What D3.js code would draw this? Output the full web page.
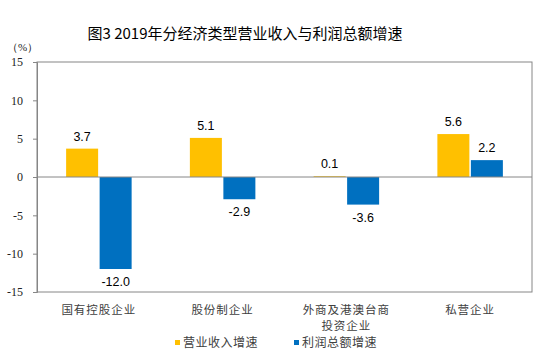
<!DOCTYPE html>
<html><head><meta charset="utf-8">
<script src="https://cdn.jsdelivr.net/npm/d3@7"></script>
<style>body{margin:0;background:#fff}svg{display:block}</style>
</head><body>
<svg id="c" width="550" height="360"></svg>
<script>
const categories = [["国有控股企业"], ["股份制企业"], ["外商及港澳台商", "投资企业"], ["私营企业"]];
const seriesNames = ["营业收入增速", "利润总额增速"];
const revenue = [3.7, 5.1, 0.1, 5.6];
const profit = [-12.0, -2.9, -3.6, 2.2];
const yTicks = [15, 10, 5, 0, -5, -10, -15];
const colors = ["#FFC000", "#0070C0"];

const svg = d3.select("#c");
const L = 37, R = 532, T = 62, B = 292;
const x = d3.scaleBand().domain(d3.range(categories.length)).range([L, R]);
const y = d3.scaleLinear().domain([-15, 15]).range([B, T]);
const barW = 32, gap = 1.5;
const cjk = "'Noto Sans CJK SC', sans-serif";
const serif = "'Liberation Serif', 'DejaVu Serif', serif";

// title
svg.append("text").attr("x", 245).attr("y", 39).attr("text-anchor", "middle")
  .attr("font-family", cjk).attr("font-size", 15).attr("fill", "#000")
  .text("图3 2019年分经济类型营业收入与利润总额增速");
svg.append("text").attr("x", 7).attr("y", 51).attr("font-family", serif)
  .attr("font-size", 11).attr("fill", "#222").text("（%）");

// frame
svg.append("rect").attr("x", L).attr("y", T).attr("width", R - L).attr("height", B - T)
  .attr("fill", "none").attr("stroke", "#868686").attr("stroke-width", 1);

// y axis
const yAxis = d3.axisLeft(y).tickValues(yTicks).tickSize(4).tickPadding(10)
  .tickFormat(d => String(d));
const ga = svg.append("g").attr("transform", `translate(${L},0)`).call(yAxis);
ga.select(".domain").attr("stroke", "#868686");
ga.selectAll(".tick line").attr("stroke", "#868686");
ga.selectAll(".tick text").attr("font-family", serif).attr("font-size", 12).attr("fill", "#222");

const data = categories.map((c, i) => ({i, vals: [revenue[i], profit[i]]}));
const g = svg.append("g");
data.forEach(d => {
  const cx = x(d.i) + x.bandwidth() / 2;
  d.vals.forEach((v, s) => {
    const bx = s === 0 ? cx - gap / 2 - barW : cx + gap / 2;
    g.append("rect").attr("x", bx).attr("width", barW)
      .attr("y", Math.min(y(v), y(0))).attr("height", Math.abs(y(v) - y(0)))
      .attr("fill", colors[s]);
    g.append("text").attr("x", bx + barW / 2)
      .attr("y", v >= 0 ? y(v) - 8 : y(v) + 17)
      .attr("text-anchor", "middle").attr("font-family", "'Liberation Sans', Arial, sans-serif")
      .attr("font-size", 12.5).attr("fill", "#000").text(v.toFixed(1));
  });
});

// zero line
svg.append("line").attr("x1", L).attr("x2", R).attr("y1", y(0)).attr("y2", y(0))
  .attr("stroke", "#868686").attr("stroke-width", 1);

// category labels
categories.forEach((c, i) => {
  const cx = x(i) + x.bandwidth() / 2;
  c.forEach((line, k) => {
    svg.append("text").attr("x", cx).attr("y", 314 + k * 16).attr("text-anchor", "middle")
      .attr("font-family", cjk).attr("font-size", 11.5).attr("letter-spacing", 1).attr("fill", "#404040")
      .text(line);
  });
});

// legend
const legX = [175, 294];
seriesNames.forEach((n, s) => {
  svg.append("rect").attr("x", legX[s]).attr("y", 340).attr("width", 5).attr("height", 5).attr("fill", colors[s]);
  svg.append("text").attr("x", legX[s] + 8).attr("y", 347).attr("font-family", cjk)
    .attr("font-size", 12).attr("letter-spacing", 0.5).attr("fill", "#404040").text(n);
});
</script>
</body></html>
